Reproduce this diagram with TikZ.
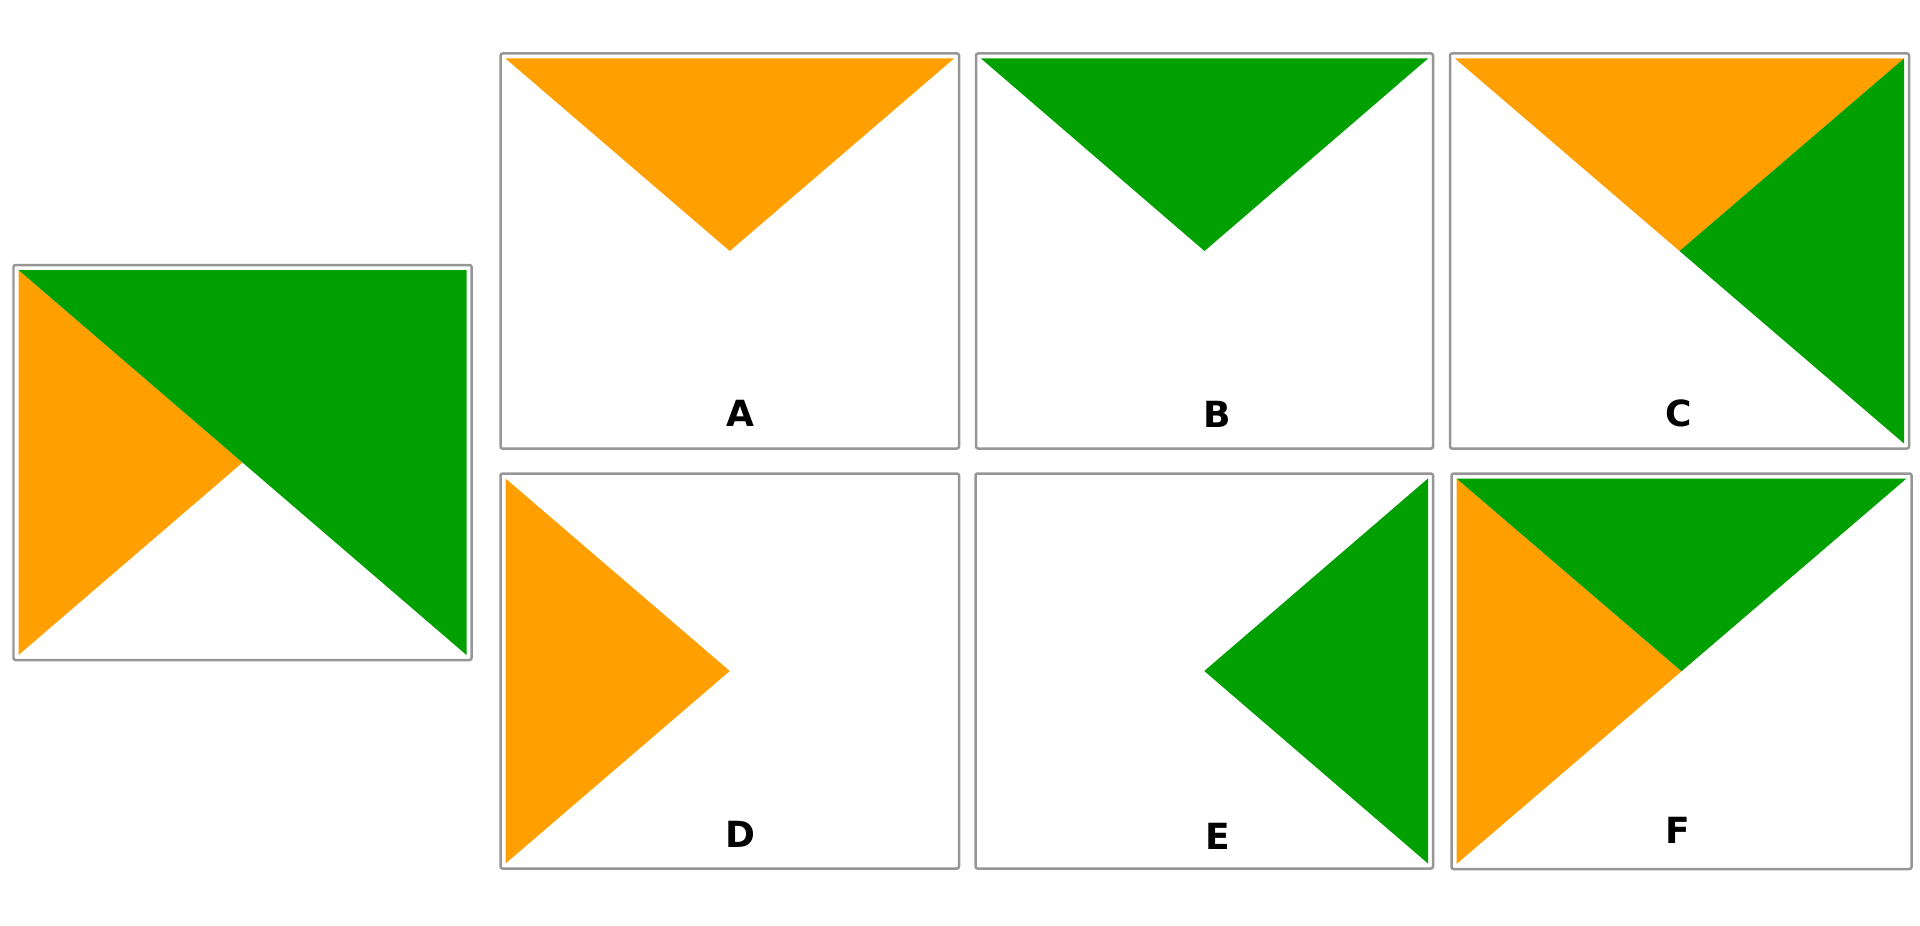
\documentclass[tikz,border=0pt]{standalone}
\usepackage{fontspec}
\setsansfont{DejaVu Sans}
\usetikzlibrary{calc}
\definecolor{triorange}{RGB}{255,160,0}
\definecolor{trigreen}{RGB}{0,160,0}
\definecolor{framegray}{RGB}{150,150,150}

\begin{document}
\begin{tikzpicture}[
  x=0.02cm, y=-0.02cm,
  frame/.style={draw=framegray, line width=0.05cm, rounded corners=0.04cm},
  letter/.style={font=\sffamily\bfseries\fontsize{20.5}{24}\selectfont, inner sep=0pt}
]
\useasboundingbox (0,0) rectangle (1920,926);

% Panel frames and inner corners: name/left/top/right/bottom
\foreach \n/\l/\t/\r/\b in {
    big/13.5/265/471.5/660,
    A/500.5/53.5/959/448.5,
    B/976/53.5/1433/448.5,
    C/1450/53.5/1909/448.5,
    D/500.5/473.5/959/868.5,
    E/975.5/473.5/1433/868.5,
    F/1451.5/473.5/1911.5/869}{
  \draw[frame] (\l,\t) rectangle (\r,\b);
  \coordinate (\n-nw) at (\l+5,\t+5);
  \coordinate (\n-ne) at (\r-5,\t+5);
  \coordinate (\n-sw) at (\l+5,\b-5);
  \coordinate (\n-se) at (\r-5,\b-5);
  \coordinate (\n-c) at ($(\n-nw)!0.5!(\n-se)$);
}

% Big panel
\fill[triorange] (big-nw) -- (big-sw) -- (big-c) -- cycle;
\fill[trigreen] (big-nw) -- (big-ne) -- (big-se) -- cycle;

% Top row
\fill[triorange] (A-nw) -- (A-ne) -- (A-c) -- cycle;
\fill[trigreen] (B-nw) -- (B-ne) -- (B-c) -- cycle;
\fill[triorange] (C-nw) -- (C-ne) -- (C-c) -- cycle;
\fill[trigreen] (C-ne) -- (C-se) -- (C-c) -- cycle;

% Bottom row
\fill[triorange] (D-nw) -- (D-sw) -- (D-c) -- cycle;
\fill[trigreen] (E-ne) -- (E-se) -- (E-c) -- cycle;
\fill[triorange] (F-nw) -- (F-sw) -- (F-c) -- cycle;
\fill[trigreen] (F-nw) -- (F-ne) -- (F-c) -- cycle;

% Labels
\node[letter] (labA) at (740.5,413) {A};
\node[letter] (labB) at (1217,414.5) {B};
\node[letter] (labC) at (1679,413) {C};
\node[letter] (labD) at (740.5,834) {D};
\node[letter] (labE) at (1217.5,836) {E};
\node[letter] (labF) at (1677.5,830) {F};

\end{tikzpicture}
\end{document}
